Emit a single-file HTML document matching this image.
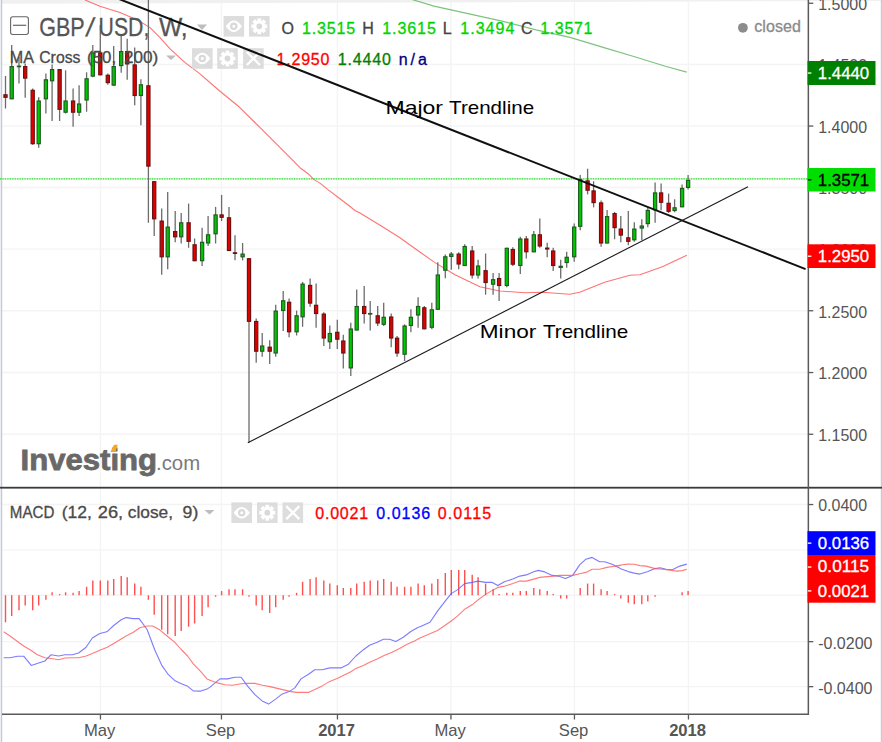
<!DOCTYPE html>
<html><head><meta charset="utf-8"><title>GBP/USD Weekly Chart</title>
<style>
html,body{margin:0;padding:0;background:#fff;}
body{width:882px;height:742px;overflow:hidden;position:relative;font-family:"Liberation Sans",sans-serif;}
svg{position:absolute;left:0;top:0;display:block}
text{font-family:"Liberation Sans",sans-serif;}
.ax{font-size:16.6px;fill:#555;}
.hd{font-size:16px;fill:#4a4a4a;}
.lbl{font-size:19px;fill:#000;}
</style></head><body>
<svg width="882" height="742" viewBox="0 0 882 742">
<rect x="0" y="0" width="882" height="742" fill="#fff"/>
<line x1="100.4" y1="0" x2="100.4" y2="714" stroke="#f4f4f4" stroke-width="1.4"/>
<line x1="221.4" y1="0" x2="221.4" y2="714" stroke="#f4f4f4" stroke-width="1.4"/>
<line x1="337.4" y1="0" x2="337.4" y2="714" stroke="#f4f4f4" stroke-width="1.4"/>
<line x1="450.9" y1="0" x2="450.9" y2="714" stroke="#f4f4f4" stroke-width="1.4"/>
<line x1="574.4" y1="0" x2="574.4" y2="714" stroke="#f4f4f4" stroke-width="1.4"/>
<line x1="688.4" y1="0" x2="688.4" y2="714" stroke="#f4f4f4" stroke-width="1.4"/>
<line x1="2" y1="64.5" x2="808.3" y2="64.5" stroke="#f4f4f4" stroke-width="1.4"/>
<line x1="2" y1="126" x2="808.3" y2="126" stroke="#f4f4f4" stroke-width="1.4"/>
<line x1="2" y1="187.5" x2="808.3" y2="187.5" stroke="#f4f4f4" stroke-width="1.4"/>
<line x1="2" y1="249.1" x2="808.3" y2="249.1" stroke="#f4f4f4" stroke-width="1.4"/>
<line x1="2" y1="310.7" x2="808.3" y2="310.7" stroke="#f4f4f4" stroke-width="1.4"/>
<line x1="2" y1="372.5" x2="808.3" y2="372.5" stroke="#f4f4f4" stroke-width="1.4"/>
<line x1="2" y1="434.2" x2="808.3" y2="434.2" stroke="#f4f4f4" stroke-width="1.4"/>
<line x1="2" y1="504.5" x2="808.3" y2="504.5" stroke="#f4f4f4" stroke-width="1.4"/>
<line x1="2" y1="549.9" x2="808.3" y2="549.9" stroke="#f4f4f4" stroke-width="1.4"/>
<line x1="2" y1="595.3" x2="808.3" y2="595.3" stroke="#f4f4f4" stroke-width="1.4"/>
<line x1="2" y1="641.6" x2="808.3" y2="641.6" stroke="#f4f4f4" stroke-width="1.4"/>
<line x1="2" y1="686.6" x2="808.3" y2="686.6" stroke="#f4f4f4" stroke-width="1.4"/>
<path d="M0 0 L882 0 L882 1 L0 3.7 Z" fill="#f0f0f0"/>
<rect x="0" y="0" width="1" height="742" fill="#eceef5"/>
<line x1="1.6" y1="0" x2="1.6" y2="742" stroke="#c6c9d3" stroke-width="1.2"/>
<line x1="881.4" y1="0" x2="881.4" y2="742" stroke="#cacad2" stroke-width="1.2"/>
<polyline points="85.0,0.0 100.0,6.2 119.9,12.5 137.4,20.0 149.8,27.4 159.8,37.4 169.8,48.6 184.8,62.4 199.7,73.6 219.7,91.0 239.6,107.3 259.6,127.2 279.6,147.2 300.0,167.7 308.1,173.7 313.7,179.4 320.2,183.4 328.3,189.9 338.0,197.2 348.5,205.3 355.0,210.5 360.0,213.0 379.7,225.0 399.6,237.5 417.0,250.0 434.6,262.4 455.0,274.7 479.9,286.7 499.8,291.0 524.8,292.7 542.2,292.2 569.7,294.2 579.7,292.2 604.6,282.2 629.9,275.2 639.9,274.7 662.4,266.7 686.8,255.2" fill="none" stroke="#ff5a5a" stroke-width="1.1" stroke-opacity="0.85" stroke-linejoin="round"/>
<polyline points="411.0,-1.0 413.6,0.0 434.0,6.1 468.0,13.6 502.0,21.1 536.0,29.9 570.0,37.4 604.0,47.6 638.0,57.8 665.3,66.3 686.7,72.1" fill="none" stroke="#3fa53f" stroke-width="1.1" stroke-opacity="0.68" stroke-linejoin="round"/>
<line x1="0" y1="178.8" x2="808.3" y2="178.8" stroke="#2fdc2f" stroke-width="1.3" stroke-opacity="0.3"/>
<line x1="0" y1="178.8" x2="808.3" y2="178.8" stroke="#2fdc2f" stroke-width="1.3" stroke-dasharray="1.2,1.25"/>
<line x1="5.5" y1="76" x2="5.5" y2="108.5" stroke="#6c6c6c" stroke-width="1.3"/>
<line x1="11.7" y1="44.9" x2="11.7" y2="99.3" stroke="#6c6c6c" stroke-width="1.3"/>
<line x1="19.0" y1="56.9" x2="19.0" y2="83.6" stroke="#6c6c6c" stroke-width="1.3"/>
<line x1="25.2" y1="63.6" x2="25.2" y2="97.8" stroke="#6c6c6c" stroke-width="1.3"/>
<line x1="32.7" y1="88.6" x2="32.7" y2="144.7" stroke="#6c6c6c" stroke-width="1.3"/>
<line x1="38.7" y1="97.3" x2="38.7" y2="147.7" stroke="#6c6c6c" stroke-width="1.3"/>
<line x1="45.9" y1="73.6" x2="45.9" y2="113.5" stroke="#6c6c6c" stroke-width="1.3"/>
<line x1="52.1" y1="64.4" x2="52.1" y2="121" stroke="#6c6c6c" stroke-width="1.3"/>
<line x1="59.6" y1="69.1" x2="59.6" y2="121" stroke="#6c6c6c" stroke-width="1.3"/>
<line x1="65.6" y1="70.3" x2="65.6" y2="113.5" stroke="#6c6c6c" stroke-width="1.3"/>
<line x1="73.1" y1="88.6" x2="73.1" y2="126.7" stroke="#6c6c6c" stroke-width="1.3"/>
<line x1="79.1" y1="85.3" x2="79.1" y2="116" stroke="#6c6c6c" stroke-width="1.3"/>
<line x1="86.6" y1="72.3" x2="86.6" y2="111.7" stroke="#6c6c6c" stroke-width="1.3"/>
<line x1="92.8" y1="44.9" x2="92.8" y2="77.3" stroke="#6c6c6c" stroke-width="1.3"/>
<line x1="100.3" y1="24.9" x2="100.3" y2="75.3" stroke="#6c6c6c" stroke-width="1.3"/>
<line x1="107.8" y1="73.6" x2="107.8" y2="84.8" stroke="#6c6c6c" stroke-width="1.3"/>
<line x1="113.7" y1="46.1" x2="113.7" y2="86.1" stroke="#6c6c6c" stroke-width="1.3"/>
<line x1="121.2" y1="34.9" x2="121.2" y2="72.8" stroke="#6c6c6c" stroke-width="1.3"/>
<line x1="127.2" y1="38.7" x2="127.2" y2="79.8" stroke="#6c6c6c" stroke-width="1.3"/>
<line x1="134.7" y1="47.4" x2="134.7" y2="105.3" stroke="#6c6c6c" stroke-width="1.3"/>
<line x1="140.9" y1="79.3" x2="140.9" y2="125.2" stroke="#6c6c6c" stroke-width="1.3"/>
<line x1="148.4" y1="0" x2="148.4" y2="222.8" stroke="#6c6c6c" stroke-width="1.3"/>
<line x1="154.2" y1="181.2" x2="154.2" y2="236" stroke="#6c6c6c" stroke-width="1.3"/>
<line x1="161.7" y1="208.6" x2="161.7" y2="274.7" stroke="#6c6c6c" stroke-width="1.3"/>
<line x1="167.7" y1="191.9" x2="167.7" y2="269.2" stroke="#6c6c6c" stroke-width="1.3"/>
<line x1="175.2" y1="211.1" x2="175.2" y2="242.3" stroke="#6c6c6c" stroke-width="1.3"/>
<line x1="181.2" y1="212.9" x2="181.2" y2="243.5" stroke="#6c6c6c" stroke-width="1.3"/>
<line x1="188.6" y1="203.6" x2="188.6" y2="247.8" stroke="#6c6c6c" stroke-width="1.3"/>
<line x1="194.6" y1="238.5" x2="194.6" y2="261.2" stroke="#6c6c6c" stroke-width="1.3"/>
<line x1="202.1" y1="227.8" x2="202.1" y2="266" stroke="#6c6c6c" stroke-width="1.3"/>
<line x1="208.1" y1="216.1" x2="208.1" y2="246" stroke="#6c6c6c" stroke-width="1.3"/>
<line x1="215.6" y1="206.9" x2="215.6" y2="243.5" stroke="#6c6c6c" stroke-width="1.3"/>
<line x1="221.6" y1="194.9" x2="221.6" y2="221.1" stroke="#6c6c6c" stroke-width="1.3"/>
<line x1="229.0" y1="206.9" x2="229.0" y2="251" stroke="#6c6c6c" stroke-width="1.3"/>
<line x1="235.0" y1="235.3" x2="235.0" y2="260.3" stroke="#6c6c6c" stroke-width="1.3"/>
<line x1="242.6" y1="243" x2="242.6" y2="260.4" stroke="#6c6c6c" stroke-width="1.3"/>
<line x1="249.0" y1="258.2" x2="249.0" y2="442.6" stroke="#6c6c6c" stroke-width="1.3"/>
<line x1="256.2" y1="318.5" x2="256.2" y2="362.7" stroke="#6c6c6c" stroke-width="1.3"/>
<line x1="262.2" y1="333" x2="262.2" y2="356.7" stroke="#6c6c6c" stroke-width="1.3"/>
<line x1="269.7" y1="340.2" x2="269.7" y2="364" stroke="#6c6c6c" stroke-width="1.3"/>
<line x1="275.7" y1="304.8" x2="275.7" y2="356.7" stroke="#6c6c6c" stroke-width="1.3"/>
<line x1="283.2" y1="291" x2="283.2" y2="331" stroke="#6c6c6c" stroke-width="1.3"/>
<line x1="289.1" y1="298.6" x2="289.1" y2="337.2" stroke="#6c6c6c" stroke-width="1.3"/>
<line x1="296.6" y1="310.6" x2="296.6" y2="335.5" stroke="#6c6c6c" stroke-width="1.3"/>
<line x1="302.6" y1="281.9" x2="302.6" y2="326.8" stroke="#6c6c6c" stroke-width="1.3"/>
<line x1="310.1" y1="278.6" x2="310.1" y2="306.8" stroke="#6c6c6c" stroke-width="1.3"/>
<line x1="316.1" y1="283.6" x2="316.1" y2="327.8" stroke="#6c6c6c" stroke-width="1.3"/>
<line x1="323.8" y1="312.3" x2="323.8" y2="346" stroke="#6c6c6c" stroke-width="1.3"/>
<line x1="329.8" y1="325.5" x2="329.8" y2="349" stroke="#6c6c6c" stroke-width="1.3"/>
<line x1="337.3" y1="319.8" x2="337.3" y2="349" stroke="#6c6c6c" stroke-width="1.3"/>
<line x1="343.3" y1="334.8" x2="343.3" y2="368.4" stroke="#6c6c6c" stroke-width="1.3"/>
<line x1="350.8" y1="322.8" x2="350.8" y2="376" stroke="#6c6c6c" stroke-width="1.3"/>
<line x1="356.7" y1="289.4" x2="356.7" y2="330.5" stroke="#6c6c6c" stroke-width="1.3"/>
<line x1="364.2" y1="286" x2="364.2" y2="323.5" stroke="#6c6c6c" stroke-width="1.3"/>
<line x1="370.2" y1="301" x2="370.2" y2="330.5" stroke="#6c6c6c" stroke-width="1.3"/>
<line x1="377.7" y1="306" x2="377.7" y2="326" stroke="#6c6c6c" stroke-width="1.3"/>
<line x1="383.7" y1="302.8" x2="383.7" y2="326" stroke="#6c6c6c" stroke-width="1.3"/>
<line x1="391.2" y1="313.5" x2="391.2" y2="347.2" stroke="#6c6c6c" stroke-width="1.3"/>
<line x1="397.1" y1="336" x2="397.1" y2="356.7" stroke="#6c6c6c" stroke-width="1.3"/>
<line x1="404.6" y1="324.3" x2="404.6" y2="361" stroke="#6c6c6c" stroke-width="1.3"/>
<line x1="410.9" y1="309.3" x2="410.9" y2="332.3" stroke="#6c6c6c" stroke-width="1.3"/>
<line x1="418.1" y1="297.3" x2="418.1" y2="327.8" stroke="#6c6c6c" stroke-width="1.3"/>
<line x1="424.3" y1="306" x2="424.3" y2="329.3" stroke="#6c6c6c" stroke-width="1.3"/>
<line x1="431.8" y1="302.8" x2="431.8" y2="329.3" stroke="#6c6c6c" stroke-width="1.3"/>
<line x1="437.8" y1="262.3" x2="437.8" y2="309.8" stroke="#6c6c6c" stroke-width="1.3"/>
<line x1="445.3" y1="254.6" x2="445.3" y2="278.2" stroke="#6c6c6c" stroke-width="1.3"/>
<line x1="451.3" y1="251.9" x2="451.3" y2="269.8" stroke="#6c6c6c" stroke-width="1.3"/>
<line x1="458.7" y1="252.3" x2="458.7" y2="269.3" stroke="#6c6c6c" stroke-width="1.3"/>
<line x1="464.7" y1="244.3" x2="464.7" y2="266" stroke="#6c6c6c" stroke-width="1.3"/>
<line x1="472.2" y1="246" x2="472.2" y2="278.5" stroke="#6c6c6c" stroke-width="1.3"/>
<line x1="478.1" y1="259.8" x2="478.1" y2="278.5" stroke="#6c6c6c" stroke-width="1.3"/>
<line x1="485.6" y1="253.5" x2="485.6" y2="294.7" stroke="#6c6c6c" stroke-width="1.3"/>
<line x1="493.1" y1="273" x2="493.1" y2="294.7" stroke="#6c6c6c" stroke-width="1.3"/>
<line x1="499.1" y1="273" x2="499.1" y2="301" stroke="#6c6c6c" stroke-width="1.3"/>
<line x1="506.8" y1="247.8" x2="506.8" y2="287.2" stroke="#6c6c6c" stroke-width="1.3"/>
<line x1="512.8" y1="247.3" x2="512.8" y2="266" stroke="#6c6c6c" stroke-width="1.3"/>
<line x1="520.3" y1="236.8" x2="520.3" y2="274" stroke="#6c6c6c" stroke-width="1.3"/>
<line x1="526.3" y1="236" x2="526.3" y2="258.5" stroke="#6c6c6c" stroke-width="1.3"/>
<line x1="533.8" y1="231" x2="533.8" y2="252.3" stroke="#6c6c6c" stroke-width="1.3"/>
<line x1="539.8" y1="218.6" x2="539.8" y2="247.8" stroke="#6c6c6c" stroke-width="1.3"/>
<line x1="547.2" y1="242.8" x2="547.2" y2="257.3" stroke="#6c6c6c" stroke-width="1.3"/>
<line x1="553.2" y1="247.8" x2="553.2" y2="271" stroke="#6c6c6c" stroke-width="1.3"/>
<line x1="560.7" y1="259.8" x2="560.7" y2="278.5" stroke="#6c6c6c" stroke-width="1.3"/>
<line x1="566.7" y1="251.8" x2="566.7" y2="267.7" stroke="#6c6c6c" stroke-width="1.3"/>
<line x1="574.2" y1="223.6" x2="574.2" y2="261.8" stroke="#6c6c6c" stroke-width="1.3"/>
<line x1="580.2" y1="175" x2="580.2" y2="230.3" stroke="#6c6c6c" stroke-width="1.3"/>
<line x1="587.6" y1="168.7" x2="587.6" y2="194.4" stroke="#6c6c6c" stroke-width="1.3"/>
<line x1="593.6" y1="181.2" x2="593.6" y2="207.4" stroke="#6c6c6c" stroke-width="1.3"/>
<line x1="601.1" y1="200.6" x2="601.1" y2="246.8" stroke="#6c6c6c" stroke-width="1.3"/>
<line x1="607.1" y1="209.9" x2="607.1" y2="243.5" stroke="#6c6c6c" stroke-width="1.3"/>
<line x1="614.6" y1="211.9" x2="614.6" y2="239.3" stroke="#6c6c6c" stroke-width="1.3"/>
<line x1="620.8" y1="216.1" x2="620.8" y2="242.3" stroke="#6c6c6c" stroke-width="1.3"/>
<line x1="628.3" y1="211.1" x2="628.3" y2="245.3" stroke="#6c6c6c" stroke-width="1.3"/>
<line x1="634.3" y1="222.3" x2="634.3" y2="241.8" stroke="#6c6c6c" stroke-width="1.3"/>
<line x1="641.8" y1="219.3" x2="641.8" y2="240.3" stroke="#6c6c6c" stroke-width="1.3"/>
<line x1="647.8" y1="207.4" x2="647.8" y2="227.3" stroke="#6c6c6c" stroke-width="1.3"/>
<line x1="655.1" y1="182.4" x2="655.1" y2="222.8" stroke="#6c6c6c" stroke-width="1.3"/>
<line x1="661.1" y1="183.6" x2="661.1" y2="210.3" stroke="#6c6c6c" stroke-width="1.3"/>
<line x1="668.6" y1="193.6" x2="668.6" y2="213" stroke="#6c6c6c" stroke-width="1.3"/>
<line x1="674.6" y1="199.3" x2="674.6" y2="212.3" stroke="#6c6c6c" stroke-width="1.3"/>
<line x1="682.1" y1="184.4" x2="682.1" y2="207.3" stroke="#6c6c6c" stroke-width="1.3"/>
<line x1="688.1" y1="174.9" x2="688.1" y2="189.4" stroke="#6c6c6c" stroke-width="1.3"/>
<rect x="3.9" y="94.8" width="3.2" height="2.5" fill="#e00000" stroke="#6a1010" stroke-width="1.15"/>
<rect x="10.1" y="66.6" width="3.2" height="32.2" fill="#00c800" stroke="#1f5a1f" stroke-width="1.15"/>
<rect x="17.4" y="66.1" width="3.2" height="0.6" fill="#00c800" stroke="#1f5a1f" stroke-width="1.15"/>
<rect x="23.6" y="66.6" width="3.2" height="11.5" fill="#e00000" stroke="#6a1010" stroke-width="1.15"/>
<rect x="31.1" y="90.3" width="3.2" height="53.4" fill="#e00000" stroke="#6a1010" stroke-width="1.15"/>
<rect x="37.1" y="101.0" width="3.2" height="42.7" fill="#00c800" stroke="#1f5a1f" stroke-width="1.15"/>
<rect x="44.3" y="79.8" width="3.2" height="19.0" fill="#00c800" stroke="#1f5a1f" stroke-width="1.15"/>
<rect x="50.5" y="69.6" width="3.2" height="11.2" fill="#00c800" stroke="#1f5a1f" stroke-width="1.15"/>
<rect x="58.0" y="69.6" width="3.2" height="39.7" fill="#e00000" stroke="#6a1010" stroke-width="1.15"/>
<rect x="64.0" y="101.0" width="3.2" height="11.2" fill="#00c800" stroke="#1f5a1f" stroke-width="1.15"/>
<rect x="71.5" y="101.0" width="3.2" height="11.2" fill="#e00000" stroke="#6a1010" stroke-width="1.15"/>
<rect x="77.5" y="104.0" width="3.2" height="8.2" fill="#00c800" stroke="#1f5a1f" stroke-width="1.15"/>
<rect x="85.0" y="78.8" width="3.2" height="21.2" fill="#00c800" stroke="#1f5a1f" stroke-width="1.15"/>
<rect x="91.2" y="52.9" width="3.2" height="23.2" fill="#00c800" stroke="#1f5a1f" stroke-width="1.15"/>
<rect x="98.7" y="52.9" width="3.2" height="21.9" fill="#e00000" stroke="#6a1010" stroke-width="1.15"/>
<rect x="106.2" y="75.3" width="3.2" height="7.3" fill="#e00000" stroke="#6a1010" stroke-width="1.15"/>
<rect x="112.1" y="66.6" width="3.2" height="18.5" fill="#00c800" stroke="#1f5a1f" stroke-width="1.15"/>
<rect x="119.6" y="51.6" width="3.2" height="14.0" fill="#00c800" stroke="#1f5a1f" stroke-width="1.15"/>
<rect x="125.6" y="51.6" width="3.2" height="12.3" fill="#e00000" stroke="#6a1010" stroke-width="1.15"/>
<rect x="133.1" y="64.9" width="3.2" height="30.6" fill="#e00000" stroke="#6a1010" stroke-width="1.15"/>
<rect x="139.3" y="84.8" width="3.2" height="10.7" fill="#00c800" stroke="#1f5a1f" stroke-width="1.15"/>
<rect x="146.8" y="85.8" width="3.2" height="80.3" fill="#e00000" stroke="#6a1010" stroke-width="1.15"/>
<rect x="152.6" y="181.7" width="3.2" height="37.1" fill="#e00000" stroke="#6a1010" stroke-width="1.15"/>
<rect x="160.1" y="221.1" width="3.2" height="35.7" fill="#e00000" stroke="#6a1010" stroke-width="1.15"/>
<rect x="166.1" y="227.1" width="3.2" height="29.7" fill="#00c800" stroke="#1f5a1f" stroke-width="1.15"/>
<rect x="173.6" y="231.6" width="3.2" height="5.2" fill="#e00000" stroke="#6a1010" stroke-width="1.15"/>
<rect x="179.6" y="222.8" width="3.2" height="14.0" fill="#00c800" stroke="#1f5a1f" stroke-width="1.15"/>
<rect x="187.0" y="222.8" width="3.2" height="18.5" fill="#e00000" stroke="#6a1010" stroke-width="1.15"/>
<rect x="193.0" y="244.8" width="3.2" height="15.9" fill="#e00000" stroke="#6a1010" stroke-width="1.15"/>
<rect x="200.5" y="242.3" width="3.2" height="18.4" fill="#00c800" stroke="#1f5a1f" stroke-width="1.15"/>
<rect x="206.5" y="234.8" width="3.2" height="8.2" fill="#00c800" stroke="#1f5a1f" stroke-width="1.15"/>
<rect x="214.0" y="214.9" width="3.2" height="18.9" fill="#00c800" stroke="#1f5a1f" stroke-width="1.15"/>
<rect x="220.0" y="214.9" width="3.2" height="2.4" fill="#e00000" stroke="#6a1010" stroke-width="1.15"/>
<rect x="227.4" y="217.8" width="3.2" height="32.7" fill="#e00000" stroke="#6a1010" stroke-width="1.15"/>
<rect x="233.4" y="252.8" width="3.2" height="0.6" fill="#e00000" stroke="#6a1010" stroke-width="1.15"/>
<rect x="241.0" y="254.1" width="3.2" height="2.7" fill="#00c800" stroke="#1f5a1f" stroke-width="1.15"/>
<rect x="247.4" y="258.7" width="3.2" height="62.6" fill="#e00000" stroke="#6a1010" stroke-width="1.15"/>
<rect x="254.6" y="321.5" width="3.2" height="29.7" fill="#e00000" stroke="#6a1010" stroke-width="1.15"/>
<rect x="260.6" y="346.0" width="3.2" height="5.2" fill="#00c800" stroke="#1f5a1f" stroke-width="1.15"/>
<rect x="268.1" y="347.2" width="3.2" height="4.0" fill="#e00000" stroke="#6a1010" stroke-width="1.15"/>
<rect x="274.1" y="311.1" width="3.2" height="41.9" fill="#00c800" stroke="#1f5a1f" stroke-width="1.15"/>
<rect x="281.6" y="300.8" width="3.2" height="9.7" fill="#00c800" stroke="#1f5a1f" stroke-width="1.15"/>
<rect x="287.5" y="302.3" width="3.2" height="29.5" fill="#e00000" stroke="#6a1010" stroke-width="1.15"/>
<rect x="295.0" y="315.8" width="3.2" height="16.0" fill="#00c800" stroke="#1f5a1f" stroke-width="1.15"/>
<rect x="301.0" y="284.1" width="3.2" height="32.7" fill="#00c800" stroke="#1f5a1f" stroke-width="1.15"/>
<rect x="308.5" y="285.4" width="3.2" height="17.7" fill="#e00000" stroke="#6a1010" stroke-width="1.15"/>
<rect x="314.5" y="305.3" width="3.2" height="8.2" fill="#e00000" stroke="#6a1010" stroke-width="1.15"/>
<rect x="322.2" y="314.1" width="3.2" height="23.9" fill="#e00000" stroke="#6a1010" stroke-width="1.15"/>
<rect x="328.2" y="333.5" width="3.2" height="8.2" fill="#00c800" stroke="#1f5a1f" stroke-width="1.15"/>
<rect x="335.7" y="332.3" width="3.2" height="6.9" fill="#e00000" stroke="#6a1010" stroke-width="1.15"/>
<rect x="341.7" y="341.0" width="3.2" height="12.0" fill="#e00000" stroke="#6a1010" stroke-width="1.15"/>
<rect x="349.2" y="329.0" width="3.2" height="38.9" fill="#00c800" stroke="#1f5a1f" stroke-width="1.15"/>
<rect x="355.1" y="306.5" width="3.2" height="23.5" fill="#00c800" stroke="#1f5a1f" stroke-width="1.15"/>
<rect x="362.6" y="306.5" width="3.2" height="7.0" fill="#e00000" stroke="#6a1010" stroke-width="1.15"/>
<rect x="368.6" y="313.5" width="3.2" height="0.6" fill="#00c800" stroke="#1f5a1f" stroke-width="1.15"/>
<rect x="376.1" y="315.8" width="3.2" height="7.2" fill="#e00000" stroke="#6a1010" stroke-width="1.15"/>
<rect x="382.1" y="317.3" width="3.2" height="7.0" fill="#00c800" stroke="#1f5a1f" stroke-width="1.15"/>
<rect x="389.6" y="317.0" width="3.2" height="21.0" fill="#e00000" stroke="#6a1010" stroke-width="1.15"/>
<rect x="395.5" y="338.2" width="3.2" height="14.8" fill="#e00000" stroke="#6a1010" stroke-width="1.15"/>
<rect x="403.0" y="326.0" width="3.2" height="28.2" fill="#00c800" stroke="#1f5a1f" stroke-width="1.15"/>
<rect x="409.3" y="317.3" width="3.2" height="8.2" fill="#00c800" stroke="#1f5a1f" stroke-width="1.15"/>
<rect x="416.5" y="306.5" width="3.2" height="8.5" fill="#00c800" stroke="#1f5a1f" stroke-width="1.15"/>
<rect x="422.7" y="307.8" width="3.2" height="21.0" fill="#e00000" stroke="#6a1010" stroke-width="1.15"/>
<rect x="430.2" y="309.8" width="3.2" height="17.5" fill="#00c800" stroke="#1f5a1f" stroke-width="1.15"/>
<rect x="436.2" y="275.0" width="3.2" height="34.3" fill="#00c800" stroke="#1f5a1f" stroke-width="1.15"/>
<rect x="443.7" y="256.8" width="3.2" height="13.4" fill="#00c800" stroke="#1f5a1f" stroke-width="1.15"/>
<rect x="449.7" y="254.1" width="3.2" height="2.3" fill="#00c800" stroke="#1f5a1f" stroke-width="1.15"/>
<rect x="457.1" y="254.1" width="3.2" height="9.9" fill="#e00000" stroke="#6a1010" stroke-width="1.15"/>
<rect x="463.1" y="246.5" width="3.2" height="19.0" fill="#00c800" stroke="#1f5a1f" stroke-width="1.15"/>
<rect x="470.6" y="251.0" width="3.2" height="24.0" fill="#e00000" stroke="#6a1010" stroke-width="1.15"/>
<rect x="476.5" y="266.0" width="3.2" height="9.0" fill="#00c800" stroke="#1f5a1f" stroke-width="1.15"/>
<rect x="484.0" y="270.7" width="3.2" height="11.8" fill="#e00000" stroke="#6a1010" stroke-width="1.15"/>
<rect x="491.5" y="279.7" width="3.2" height="4.5" fill="#00c800" stroke="#1f5a1f" stroke-width="1.15"/>
<rect x="497.5" y="278.5" width="3.2" height="7.0" fill="#e00000" stroke="#6a1010" stroke-width="1.15"/>
<rect x="505.2" y="248.3" width="3.2" height="37.2" fill="#00c800" stroke="#1f5a1f" stroke-width="1.15"/>
<rect x="511.2" y="249.5" width="3.2" height="14.7" fill="#e00000" stroke="#6a1010" stroke-width="1.15"/>
<rect x="518.7" y="239.0" width="3.2" height="26.5" fill="#00c800" stroke="#1f5a1f" stroke-width="1.15"/>
<rect x="524.7" y="239.0" width="3.2" height="12.8" fill="#e00000" stroke="#6a1010" stroke-width="1.15"/>
<rect x="532.2" y="234.8" width="3.2" height="17.0" fill="#00c800" stroke="#1f5a1f" stroke-width="1.15"/>
<rect x="538.2" y="234.8" width="3.2" height="11.2" fill="#e00000" stroke="#6a1010" stroke-width="1.15"/>
<rect x="545.6" y="248.1" width="3.2" height="0.9" fill="#e00000" stroke="#6a1010" stroke-width="1.15"/>
<rect x="551.6" y="251.0" width="3.2" height="14.5" fill="#e00000" stroke="#6a1010" stroke-width="1.15"/>
<rect x="559.1" y="266.3" width="3.2" height="1.1" fill="#00c800" stroke="#1f5a1f" stroke-width="1.15"/>
<rect x="565.1" y="257.3" width="3.2" height="5.2" fill="#00c800" stroke="#1f5a1f" stroke-width="1.15"/>
<rect x="572.6" y="227.1" width="3.2" height="29.7" fill="#00c800" stroke="#1f5a1f" stroke-width="1.15"/>
<rect x="578.6" y="179.7" width="3.2" height="46.6" fill="#00c800" stroke="#1f5a1f" stroke-width="1.15"/>
<rect x="586.0" y="180.9" width="3.2" height="9.3" fill="#e00000" stroke="#6a1010" stroke-width="1.15"/>
<rect x="592.0" y="190.9" width="3.2" height="11.7" fill="#e00000" stroke="#6a1010" stroke-width="1.15"/>
<rect x="599.5" y="202.9" width="3.2" height="40.1" fill="#e00000" stroke="#6a1010" stroke-width="1.15"/>
<rect x="605.5" y="216.6" width="3.2" height="26.4" fill="#00c800" stroke="#1f5a1f" stroke-width="1.15"/>
<rect x="613.0" y="213.6" width="3.2" height="14.0" fill="#e00000" stroke="#6a1010" stroke-width="1.15"/>
<rect x="619.2" y="229.1" width="3.2" height="6.0" fill="#e00000" stroke="#6a1010" stroke-width="1.15"/>
<rect x="626.7" y="237.8" width="3.2" height="3.5" fill="#e00000" stroke="#6a1010" stroke-width="1.15"/>
<rect x="632.7" y="229.1" width="3.2" height="10.7" fill="#00c800" stroke="#1f5a1f" stroke-width="1.15"/>
<rect x="640.2" y="226.0" width="3.2" height="2.1" fill="#00c800" stroke="#1f5a1f" stroke-width="1.15"/>
<rect x="646.2" y="210.4" width="3.2" height="13.2" fill="#00c800" stroke="#1f5a1f" stroke-width="1.15"/>
<rect x="653.5" y="192.9" width="3.2" height="16.9" fill="#00c800" stroke="#1f5a1f" stroke-width="1.15"/>
<rect x="659.5" y="192.9" width="3.2" height="9.4" fill="#e00000" stroke="#6a1010" stroke-width="1.15"/>
<rect x="667.0" y="203.3" width="3.2" height="8.0" fill="#e00000" stroke="#6a1010" stroke-width="1.15"/>
<rect x="673.0" y="207.8" width="3.2" height="2.7" fill="#00c800" stroke="#1f5a1f" stroke-width="1.15"/>
<rect x="680.5" y="188.4" width="3.2" height="18.4" fill="#00c800" stroke="#1f5a1f" stroke-width="1.15"/>
<rect x="686.5" y="180.4" width="3.2" height="7.0" fill="#00c800" stroke="#1f5a1f" stroke-width="1.15"/>
<line x1="5.5" y1="595.3" x2="5.5" y2="622.3" stroke="#ff5050" stroke-width="1.4"/>
<line x1="11.7" y1="595.3" x2="11.7" y2="616.0" stroke="#ff5050" stroke-width="1.4"/>
<line x1="19.0" y1="595.3" x2="19.0" y2="610.3" stroke="#ff5050" stroke-width="1.4"/>
<line x1="25.2" y1="595.3" x2="25.2" y2="605.5" stroke="#ff5050" stroke-width="1.4"/>
<line x1="32.7" y1="595.3" x2="32.7" y2="610.3" stroke="#ff5050" stroke-width="1.4"/>
<line x1="38.7" y1="595.3" x2="38.7" y2="605.5" stroke="#ff5050" stroke-width="1.4"/>
<line x1="45.9" y1="595.3" x2="45.9" y2="599.8" stroke="#ff5050" stroke-width="1.4"/>
<line x1="52.1" y1="592.3" x2="52.1" y2="595.3" stroke="#ff5050" stroke-width="1.4"/>
<line x1="59.6" y1="594.1" x2="59.6" y2="595.3" stroke="#ff5050" stroke-width="1.4"/>
<line x1="65.6" y1="592.3" x2="65.6" y2="595.3" stroke="#ff5050" stroke-width="1.4"/>
<line x1="73.1" y1="592.8" x2="73.1" y2="595.3" stroke="#ff5050" stroke-width="1.4"/>
<line x1="79.1" y1="591.1" x2="79.1" y2="595.3" stroke="#ff5050" stroke-width="1.4"/>
<line x1="86.6" y1="586.8" x2="86.6" y2="595.3" stroke="#ff5050" stroke-width="1.4"/>
<line x1="92.8" y1="580.6" x2="92.8" y2="595.3" stroke="#ff5050" stroke-width="1.4"/>
<line x1="100.3" y1="580.6" x2="100.3" y2="595.3" stroke="#ff5050" stroke-width="1.4"/>
<line x1="107.8" y1="580.6" x2="107.8" y2="595.3" stroke="#ff5050" stroke-width="1.4"/>
<line x1="113.7" y1="579.1" x2="113.7" y2="595.3" stroke="#ff5050" stroke-width="1.4"/>
<line x1="121.2" y1="576.1" x2="121.2" y2="595.3" stroke="#ff5050" stroke-width="1.4"/>
<line x1="127.2" y1="577.3" x2="127.2" y2="595.3" stroke="#ff5050" stroke-width="1.4"/>
<line x1="134.7" y1="583.6" x2="134.7" y2="595.3" stroke="#ff5050" stroke-width="1.4"/>
<line x1="140.9" y1="586.8" x2="140.9" y2="595.3" stroke="#ff5050" stroke-width="1.4"/>
<line x1="148.4" y1="595.3" x2="148.4" y2="599.8" stroke="#ff5050" stroke-width="1.4"/>
<line x1="154.2" y1="595.3" x2="154.2" y2="614.8" stroke="#ff5050" stroke-width="1.4"/>
<line x1="161.7" y1="595.3" x2="161.7" y2="629.7" stroke="#ff5050" stroke-width="1.4"/>
<line x1="167.7" y1="595.3" x2="167.7" y2="634.2" stroke="#ff5050" stroke-width="1.4"/>
<line x1="175.2" y1="595.3" x2="175.2" y2="636.0" stroke="#ff5050" stroke-width="1.4"/>
<line x1="181.2" y1="595.3" x2="181.2" y2="631.0" stroke="#ff5050" stroke-width="1.4"/>
<line x1="188.6" y1="595.3" x2="188.6" y2="626.7" stroke="#ff5050" stroke-width="1.4"/>
<line x1="194.6" y1="595.3" x2="194.6" y2="623.5" stroke="#ff5050" stroke-width="1.4"/>
<line x1="202.1" y1="595.3" x2="202.1" y2="616.0" stroke="#ff5050" stroke-width="1.4"/>
<line x1="208.1" y1="595.3" x2="208.1" y2="607.3" stroke="#ff5050" stroke-width="1.4"/>
<line x1="215.6" y1="595.3" x2="215.6" y2="596.8" stroke="#ff5050" stroke-width="1.4"/>
<line x1="221.6" y1="591.1" x2="221.6" y2="595.3" stroke="#ff5050" stroke-width="1.4"/>
<line x1="229.0" y1="589.3" x2="229.0" y2="595.3" stroke="#ff5050" stroke-width="1.4"/>
<line x1="235.0" y1="589.3" x2="235.0" y2="595.3" stroke="#ff5050" stroke-width="1.4"/>
<line x1="242.6" y1="589.3" x2="242.6" y2="595.3" stroke="#ff5050" stroke-width="1.4"/>
<line x1="249.0" y1="595.3" x2="249.0" y2="596.8" stroke="#ff5050" stroke-width="1.4"/>
<line x1="256.2" y1="595.3" x2="256.2" y2="605.5" stroke="#ff5050" stroke-width="1.4"/>
<line x1="262.2" y1="595.3" x2="262.2" y2="610.3" stroke="#ff5050" stroke-width="1.4"/>
<line x1="269.7" y1="595.3" x2="269.7" y2="613.0" stroke="#ff5050" stroke-width="1.4"/>
<line x1="275.7" y1="595.3" x2="275.7" y2="607.3" stroke="#ff5050" stroke-width="1.4"/>
<line x1="283.2" y1="595.3" x2="283.2" y2="599.8" stroke="#ff5050" stroke-width="1.4"/>
<line x1="289.1" y1="595.3" x2="289.1" y2="596.8" stroke="#ff5050" stroke-width="1.4"/>
<line x1="296.6" y1="592.8" x2="296.6" y2="595.3" stroke="#ff5050" stroke-width="1.4"/>
<line x1="302.6" y1="581.8" x2="302.6" y2="595.3" stroke="#ff5050" stroke-width="1.4"/>
<line x1="310.1" y1="579.1" x2="310.1" y2="595.3" stroke="#ff5050" stroke-width="1.4"/>
<line x1="316.1" y1="577.3" x2="316.1" y2="595.3" stroke="#ff5050" stroke-width="1.4"/>
<line x1="323.8" y1="580.6" x2="323.8" y2="595.3" stroke="#ff5050" stroke-width="1.4"/>
<line x1="329.8" y1="583.6" x2="329.8" y2="595.3" stroke="#ff5050" stroke-width="1.4"/>
<line x1="337.3" y1="585.3" x2="337.3" y2="595.3" stroke="#ff5050" stroke-width="1.4"/>
<line x1="343.3" y1="588.1" x2="343.3" y2="595.3" stroke="#ff5050" stroke-width="1.4"/>
<line x1="350.8" y1="588.1" x2="350.8" y2="595.3" stroke="#ff5050" stroke-width="1.4"/>
<line x1="356.7" y1="583.6" x2="356.7" y2="595.3" stroke="#ff5050" stroke-width="1.4"/>
<line x1="364.2" y1="581.8" x2="364.2" y2="595.3" stroke="#ff5050" stroke-width="1.4"/>
<line x1="370.2" y1="580.6" x2="370.2" y2="595.3" stroke="#ff5050" stroke-width="1.4"/>
<line x1="377.7" y1="580.6" x2="377.7" y2="595.3" stroke="#ff5050" stroke-width="1.4"/>
<line x1="383.7" y1="579.1" x2="383.7" y2="595.3" stroke="#ff5050" stroke-width="1.4"/>
<line x1="391.2" y1="581.8" x2="391.2" y2="595.3" stroke="#ff5050" stroke-width="1.4"/>
<line x1="397.1" y1="586.8" x2="397.1" y2="595.3" stroke="#ff5050" stroke-width="1.4"/>
<line x1="404.6" y1="586.8" x2="404.6" y2="595.3" stroke="#ff5050" stroke-width="1.4"/>
<line x1="410.9" y1="586.8" x2="410.9" y2="595.3" stroke="#ff5050" stroke-width="1.4"/>
<line x1="418.1" y1="583.6" x2="418.1" y2="595.3" stroke="#ff5050" stroke-width="1.4"/>
<line x1="424.3" y1="585.3" x2="424.3" y2="595.3" stroke="#ff5050" stroke-width="1.4"/>
<line x1="431.8" y1="583.6" x2="431.8" y2="595.3" stroke="#ff5050" stroke-width="1.4"/>
<line x1="437.8" y1="579.1" x2="437.8" y2="595.3" stroke="#ff5050" stroke-width="1.4"/>
<line x1="445.3" y1="573.1" x2="445.3" y2="595.3" stroke="#ff5050" stroke-width="1.4"/>
<line x1="451.3" y1="569.9" x2="451.3" y2="595.3" stroke="#ff5050" stroke-width="1.4"/>
<line x1="458.7" y1="569.9" x2="458.7" y2="595.3" stroke="#ff5050" stroke-width="1.4"/>
<line x1="464.7" y1="569.9" x2="464.7" y2="595.3" stroke="#ff5050" stroke-width="1.4"/>
<line x1="472.2" y1="574.8" x2="472.2" y2="595.3" stroke="#ff5050" stroke-width="1.4"/>
<line x1="478.1" y1="577.3" x2="478.1" y2="595.3" stroke="#ff5050" stroke-width="1.4"/>
<line x1="485.6" y1="583.6" x2="485.6" y2="595.3" stroke="#ff5050" stroke-width="1.4"/>
<line x1="493.1" y1="589.3" x2="493.1" y2="595.3" stroke="#ff5050" stroke-width="1.4"/>
<line x1="499.1" y1="594.1" x2="499.1" y2="595.3" stroke="#ff5050" stroke-width="1.4"/>
<line x1="506.8" y1="592.8" x2="506.8" y2="595.3" stroke="#ff5050" stroke-width="1.4"/>
<line x1="512.8" y1="592.8" x2="512.8" y2="595.3" stroke="#ff5050" stroke-width="1.4"/>
<line x1="520.3" y1="591.1" x2="520.3" y2="595.3" stroke="#ff5050" stroke-width="1.4"/>
<line x1="526.3" y1="591.1" x2="526.3" y2="595.3" stroke="#ff5050" stroke-width="1.4"/>
<line x1="533.8" y1="588.1" x2="533.8" y2="595.3" stroke="#ff5050" stroke-width="1.4"/>
<line x1="539.8" y1="589.3" x2="539.8" y2="595.3" stroke="#ff5050" stroke-width="1.4"/>
<line x1="547.2" y1="591.1" x2="547.2" y2="595.3" stroke="#ff5050" stroke-width="1.4"/>
<line x1="553.2" y1="594.1" x2="553.2" y2="595.3" stroke="#ff5050" stroke-width="1.4"/>
<line x1="560.7" y1="595.3" x2="560.7" y2="598.5" stroke="#ff5050" stroke-width="1.4"/>
<line x1="566.7" y1="595.3" x2="566.7" y2="598.5" stroke="#ff5050" stroke-width="1.4"/>
<line x1="580.2" y1="588.1" x2="580.2" y2="595.3" stroke="#ff5050" stroke-width="1.4"/>
<line x1="587.6" y1="583.6" x2="587.6" y2="595.3" stroke="#ff5050" stroke-width="1.4"/>
<line x1="593.6" y1="583.6" x2="593.6" y2="595.3" stroke="#ff5050" stroke-width="1.4"/>
<line x1="601.1" y1="589.3" x2="601.1" y2="595.3" stroke="#ff5050" stroke-width="1.4"/>
<line x1="607.1" y1="591.1" x2="607.1" y2="595.3" stroke="#ff5050" stroke-width="1.4"/>
<line x1="614.6" y1="594.1" x2="614.6" y2="595.3" stroke="#ff5050" stroke-width="1.4"/>
<line x1="620.8" y1="595.3" x2="620.8" y2="598.5" stroke="#ff5050" stroke-width="1.4"/>
<line x1="628.3" y1="595.3" x2="628.3" y2="602.8" stroke="#ff5050" stroke-width="1.4"/>
<line x1="634.3" y1="595.3" x2="634.3" y2="604.3" stroke="#ff5050" stroke-width="1.4"/>
<line x1="641.8" y1="595.3" x2="641.8" y2="604.3" stroke="#ff5050" stroke-width="1.4"/>
<line x1="647.8" y1="595.3" x2="647.8" y2="601.5" stroke="#ff5050" stroke-width="1.4"/>
<line x1="655.1" y1="595.3" x2="655.1" y2="596.8" stroke="#ff5050" stroke-width="1.4"/>
<line x1="682.1" y1="592.3" x2="682.1" y2="595.3" stroke="#ff5050" stroke-width="1.4"/>
<line x1="688.1" y1="591.1" x2="688.1" y2="595.3" stroke="#ff5050" stroke-width="1.4"/>
<polyline points="3.7,657.7 10.0,657.7 17.5,656.2 23.7,656.2 31.2,665.4 38.7,663.0 44.9,661.0 51.1,654.7 58.6,656.0 64.9,654.7 72.3,654.7 78.6,653.0 86.1,647.2 92.3,638.0 99.8,633.5 106.8,631.8 113.7,625.5 121.2,619.8 126.0,617.6 133.4,618.6 139.2,618.6 147.2,629.8 154.7,649.7 162.1,665.9 168.4,674.7 174.6,680.4 180.8,683.4 187.1,685.9 193.3,690.9 200.8,691.1 207.0,689.1 210.0,687.1 220.0,678.9 227.5,678.9 234.9,677.2 241.2,677.2 247.4,685.9 254.9,694.6 262.1,700.9 268.6,704.1 275.6,699.1 282.3,693.9 289.1,691.6 294.8,687.9 301.0,678.9 308.5,674.2 314.8,669.7 322.2,669.7 329.7,667.9 341.0,667.9 348.4,664.2 355.9,656.0 363.4,649.7 369.6,645.2 377.1,642.2 383.4,639.3 389.6,639.3 395.8,641.5 403.3,637.3 410.8,631.5 418.3,627.3 420.0,626.8 430.0,622.3 437.5,611.1 445.2,601.1 451.2,593.6 457.4,589.9 464.6,583.6 472.1,582.4 478.1,581.1 485.6,582.4 492.3,582.4 497.8,585.6 504.8,581.6 512.8,579.1 519.8,576.1 526.3,574.9 533.7,571.7 538.5,570.4 544.7,571.9 552.2,575.4 558.4,576.1 565.4,578.6 572.7,575.4 579.6,564.9 585.9,559.2 592.1,557.4 599.6,561.7 604.6,561.7 612.1,564.2 619.6,567.9 620.0,568.6 628.2,571.6 634.2,573.1 639.9,574.1 647.9,571.6 655.1,568.6 659.9,567.8 666.1,569.3 672.3,569.8 679.8,566.1 686.8,564.1" fill="none" stroke="#5a5aff" stroke-width="1.1" stroke-opacity="0.8" stroke-linejoin="round"/>
<polyline points="3.7,631.8 10.0,636.0 17.5,641.5 23.7,646.0 31.2,650.5 37.4,654.7 44.9,657.7 51.1,658.5 58.6,659.7 64.9,658.0 72.3,657.7 78.6,657.7 86.1,656.0 92.3,653.5 99.8,650.2 107.3,647.2 113.7,643.5 121.2,639.0 126.0,636.0 133.4,632.3 139.7,627.8 147.2,626.0 152.7,626.0 159.6,629.8 167.1,636.0 174.6,642.2 180.8,649.0 187.6,656.0 193.3,663.9 200.8,671.7 207.0,678.9 210.0,680.2 217.5,682.9 225.0,684.7 232.4,685.2 241.2,683.7 247.4,683.4 254.9,683.4 262.4,685.2 269.9,686.6 277.3,688.4 284.8,690.1 289.8,691.4 296.1,692.4 302.3,692.4 308.5,692.4 314.8,689.6 322.2,685.9 329.7,681.4 337.2,678.4 344.7,674.7 350.9,671.7 355.9,668.4 363.4,665.4 369.6,662.2 377.1,659.0 384.6,655.2 392.1,652.2 399.6,648.5 407.1,644.2 414.5,641.0 420.0,638.0 427.5,634.8 437.5,630.5 445.2,625.3 451.2,621.0 457.4,616.1 464.6,609.3 472.1,604.8 478.1,599.8 485.6,594.4 492.3,590.4 497.8,587.4 504.8,586.1 512.8,583.6 519.8,581.1 526.3,581.1 533.7,579.1 539.7,577.4 547.2,576.6 553.4,576.1 559.7,575.4 567.2,575.4 572.7,575.4 579.6,573.7 585.9,572.4 592.1,569.2 599.6,569.2 607.1,567.4 614.6,566.2 620.8,565.4 615.0,566.1 622.4,564.8 628.2,564.1 634.2,564.3 639.9,565.6 646.1,566.1 655.1,568.6 662.4,569.3 669.8,570.3 677.3,571.1 682.3,570.6 686.8,569.3" fill="none" stroke="#ff5a5a" stroke-width="1.1" stroke-opacity="0.8" stroke-linejoin="round"/>
<rect x="0" y="486.8" width="882" height="1.8" fill="#3a3a3a"/>
<rect x="807.5999999999999" y="0" width="1.5" height="715" fill="#5a5a5a"/>
<rect x="2" y="713.5" width="807.0" height="1.5" fill="#5a5a5a"/>
<rect x="99.80000000000001" y="714" width="1.3" height="5.5" fill="#5a5a5a"/>
<rect x="220.8" y="714" width="1.3" height="5.5" fill="#5a5a5a"/>
<rect x="336.79999999999995" y="714" width="1.3" height="5.5" fill="#5a5a5a"/>
<rect x="450.29999999999995" y="714" width="1.3" height="5.5" fill="#5a5a5a"/>
<rect x="573.8" y="714" width="1.3" height="5.5" fill="#5a5a5a"/>
<rect x="687.8" y="714" width="1.3" height="5.5" fill="#5a5a5a"/>
<rect x="808.3" y="2.6" width="5" height="1.3" fill="#5a5a5a"/>
<text class="ax" x="818.2" y="10.1" textLength="48.9" lengthAdjust="spacingAndGlyphs">1.5000</text>
<rect x="808.3" y="63.9" width="5" height="1.3" fill="#5a5a5a"/>
<text class="ax" x="818.2" y="71.4" textLength="48.9" lengthAdjust="spacingAndGlyphs">1.4500</text>
<rect x="808.3" y="125.4" width="5" height="1.3" fill="#5a5a5a"/>
<text class="ax" x="818.2" y="132.9" textLength="48.9" lengthAdjust="spacingAndGlyphs">1.4000</text>
<rect x="808.3" y="186.9" width="5" height="1.3" fill="#5a5a5a"/>
<text class="ax" x="818.2" y="194.4" textLength="48.9" lengthAdjust="spacingAndGlyphs">1.3500</text>
<rect x="808.3" y="248.5" width="5" height="1.3" fill="#5a5a5a"/>
<text class="ax" x="818.2" y="256.0" textLength="48.9" lengthAdjust="spacingAndGlyphs">1.3000</text>
<rect x="808.3" y="310.09999999999997" width="5" height="1.3" fill="#5a5a5a"/>
<text class="ax" x="818.2" y="317.6" textLength="48.9" lengthAdjust="spacingAndGlyphs">1.2500</text>
<rect x="808.3" y="371.9" width="5" height="1.3" fill="#5a5a5a"/>
<text class="ax" x="818.2" y="379.4" textLength="48.9" lengthAdjust="spacingAndGlyphs">1.2000</text>
<rect x="808.3" y="433.59999999999997" width="5" height="1.3" fill="#5a5a5a"/>
<text class="ax" x="818.2" y="441.1" textLength="48.9" lengthAdjust="spacingAndGlyphs">1.1500</text>
<rect x="808.3" y="503.9" width="5" height="1.3" fill="#5a5a5a"/>
<text class="ax" x="818.2" y="511.4" textLength="48.9" lengthAdjust="spacingAndGlyphs">0.0400</text>
<rect x="808.3" y="549.3" width="5" height="1.3" fill="#5a5a5a"/>
<text class="ax" x="818.2" y="556.8" textLength="48.9" lengthAdjust="spacingAndGlyphs">0.0200</text>
<rect x="808.3" y="594.6999999999999" width="5" height="1.3" fill="#5a5a5a"/>
<text class="ax" x="818.2" y="602.2" textLength="48.9" lengthAdjust="spacingAndGlyphs">0.0000</text>
<rect x="808.3" y="641.0" width="5" height="1.3" fill="#5a5a5a"/>
<text class="ax" x="818.2" y="648.5" textLength="54.3" lengthAdjust="spacingAndGlyphs">-0.0200</text>
<rect x="808.3" y="686.0" width="5" height="1.3" fill="#5a5a5a"/>
<text class="ax" x="818.2" y="693.5" textLength="54.3" lengthAdjust="spacingAndGlyphs">-0.0400</text>
<rect x="807.5" y="61" width="68" height="24" fill="#008000"/>
<rect x="807.8" y="72.4" width="3.6" height="1.3" fill="#fff"/>
<text class="ax" x="817.8" y="78.5" textLength="51.4" lengthAdjust="spacingAndGlyphs" style="fill:#fff;stroke:#fff;stroke-width:0.3">1.4440</text>
<rect x="807.5" y="168" width="68" height="23.5" fill="#00dd00"/>
<rect x="807.8" y="179.15" width="3.6" height="1.3" fill="#000"/>
<text class="ax" x="817.8" y="185.6" textLength="51.4" lengthAdjust="spacingAndGlyphs" style="fill:#000;stroke:#000;stroke-width:0.3">1.3571</text>
<rect x="807.5" y="244.3" width="68" height="23.69999999999999" fill="#ff0000"/>
<rect x="807.8" y="255.54999999999998" width="3.6" height="1.3" fill="#fff"/>
<text class="ax" x="817.8" y="261.5" textLength="51.4" lengthAdjust="spacingAndGlyphs" style="fill:#fff;stroke:#fff;stroke-width:0.3">1.2950</text>
<rect x="807.5" y="531.2" width="68" height="23.799999999999955" fill="#0000ff"/>
<rect x="807.8" y="542.5" width="3.6" height="1.3" fill="#fff"/>
<text class="ax" x="817.8" y="548.6" textLength="51.4" lengthAdjust="spacingAndGlyphs" style="fill:#fff;stroke:#fff;stroke-width:0.3">0.0136</text>
<rect x="807.5" y="555" width="68" height="24" fill="#ff0000"/>
<rect x="807.8" y="566.4" width="3.6" height="1.3" fill="#fff"/>
<text class="ax" x="817.8" y="572.1" textLength="51.4" lengthAdjust="spacingAndGlyphs" style="fill:#fff;stroke:#fff;stroke-width:0.3">0.0115</text>
<rect x="807.5" y="579" width="68" height="23.700000000000045" fill="#ff0000"/>
<rect x="807.8" y="590.25" width="3.6" height="1.3" fill="#fff"/>
<text class="ax" x="817.8" y="596.5" textLength="51.4" lengthAdjust="spacingAndGlyphs" style="fill:#fff;stroke:#fff;stroke-width:0.3">0.0021</text>
<text class="ax" x="99.60000000000001" y="735.6" text-anchor="middle">May</text>
<text class="ax" x="220.6" y="735.6" text-anchor="middle">Sep</text>
<text class="ax" x="336.59999999999997" y="735.6" text-anchor="middle" font-weight="bold">2017</text>
<text class="ax" x="450.09999999999997" y="735.6" text-anchor="middle">May</text>
<text class="ax" x="573.6" y="735.6" text-anchor="middle">Sep</text>
<text class="ax" x="687.6" y="735.6" text-anchor="middle" font-weight="bold">2018</text>
<g transform="translate(223.5,16)"><rect width="20.6" height="20.6" fill="#d9d9d9" fill-opacity="0.9"/>
<path d="M2.2 10.3 Q10.3 -1.1999999999999993 18.400000000000002 10.3 Q10.3 21.8 2.2 10.3 Z" fill="#fff"/>
<circle cx="10.3" cy="10.3" r="2.6" fill="none" stroke="#d9d9d9" stroke-width="2.2"/>
</g>
<g transform="translate(249,16)"><rect width="20.6" height="20.6" fill="#d9d9d9" fill-opacity="0.9"/>
<g transform="translate(10.3,10.3)">
<rect x="-1.9" y="-7.9" width="3.8" height="15.8" fill="#fff" transform="rotate(0)"/>
<rect x="-1.9" y="-7.9" width="3.8" height="15.8" fill="#fff" transform="rotate(45)"/>
<rect x="-1.9" y="-7.9" width="3.8" height="15.8" fill="#fff" transform="rotate(90)"/>
<rect x="-1.9" y="-7.9" width="3.8" height="15.8" fill="#fff" transform="rotate(135)"/>
</g>
<circle cx="10.3" cy="10.3" r="5.9" fill="#fff"/>
<circle cx="10.3" cy="10.3" r="2.9" fill="#d9d9d9"/>
</g>
<g transform="translate(192,48.2)"><rect width="20.6" height="20.6" fill="#d9d9d9" fill-opacity="0.9"/>
<path d="M2.2 10.3 Q10.3 -1.1999999999999993 18.400000000000002 10.3 Q10.3 21.8 2.2 10.3 Z" fill="#fff"/>
<circle cx="10.3" cy="10.3" r="2.6" fill="none" stroke="#d9d9d9" stroke-width="2.2"/>
</g>
<g transform="translate(217.2,48.2)"><rect width="20.6" height="20.6" fill="#d9d9d9" fill-opacity="0.9"/>
<g transform="translate(10.3,10.3)">
<rect x="-1.9" y="-7.9" width="3.8" height="15.8" fill="#fff" transform="rotate(0)"/>
<rect x="-1.9" y="-7.9" width="3.8" height="15.8" fill="#fff" transform="rotate(45)"/>
<rect x="-1.9" y="-7.9" width="3.8" height="15.8" fill="#fff" transform="rotate(90)"/>
<rect x="-1.9" y="-7.9" width="3.8" height="15.8" fill="#fff" transform="rotate(135)"/>
</g>
<circle cx="10.3" cy="10.3" r="5.9" fill="#fff"/>
<circle cx="10.3" cy="10.3" r="2.9" fill="#d9d9d9"/>
</g>
<g transform="translate(243.1,48.2)"><rect width="20.6" height="20.6" fill="#d9d9d9" fill-opacity="0.9"/>
<path d="M3.8 3.8 L16.8 16.8 M16.8 3.8 L3.8 16.8" stroke="#fff" stroke-width="2.4" fill="none"/>
</g>
<g transform="translate(231.4,502.4)"><rect width="20.6" height="20.6" fill="#d9d9d9" fill-opacity="0.9"/>
<path d="M2.2 10.3 Q10.3 -1.1999999999999993 18.400000000000002 10.3 Q10.3 21.8 2.2 10.3 Z" fill="#fff"/>
<circle cx="10.3" cy="10.3" r="2.6" fill="none" stroke="#d9d9d9" stroke-width="2.2"/>
</g>
<g transform="translate(257,502.4)"><rect width="20.6" height="20.6" fill="#d9d9d9" fill-opacity="0.9"/>
<g transform="translate(10.3,10.3)">
<rect x="-1.9" y="-7.9" width="3.8" height="15.8" fill="#fff" transform="rotate(0)"/>
<rect x="-1.9" y="-7.9" width="3.8" height="15.8" fill="#fff" transform="rotate(45)"/>
<rect x="-1.9" y="-7.9" width="3.8" height="15.8" fill="#fff" transform="rotate(90)"/>
<rect x="-1.9" y="-7.9" width="3.8" height="15.8" fill="#fff" transform="rotate(135)"/>
</g>
<circle cx="10.3" cy="10.3" r="5.9" fill="#fff"/>
<circle cx="10.3" cy="10.3" r="2.9" fill="#d9d9d9"/>
</g>
<g transform="translate(282.5,502.4)"><rect width="20.6" height="20.6" fill="#d9d9d9" fill-opacity="0.9"/>
<path d="M3.8 3.8 L16.8 16.8 M16.8 3.8 L3.8 16.8" stroke="#fff" stroke-width="2.4" fill="none"/>
</g>
<path d="M197 24.5 L207 24.5 L202.0 30 Z" fill="#bdbdbd"/>
<path d="M166 55.4 L176 55.4 L171.0 60 Z" fill="#bdbdbd"/>
<path d="M204.5 510 L214.5 510 L209.5 514.6 Z" fill="#bdbdbd"/>
<rect x="10.6" y="16.7" width="17.8" height="17.8" rx="2.2" fill="#fff" stroke="#666" stroke-width="1.1"/>
<line x1="13" y1="25.3" x2="26.2" y2="25.3" stroke="#666" stroke-width="1.2"/>
<text class="hd" y="35.8" style="fill:#555;font-size:26px;stroke:#555;stroke-width:0.3"><tspan x="39.2" textLength="45.1" lengthAdjust="spacingAndGlyphs">GBP</tspan> <tspan x="98.6" textLength="50.7" lengthAdjust="spacingAndGlyphs">USD,</tspan> <tspan x="158.9" textLength="28.8" lengthAdjust="spacingAndGlyphs">W,</tspan></text>
<text class="hd" transform="translate(85.3,35.8) skewX(-9)" x="0" y="0" style="fill:#555;font-size:26px;stroke:#555;stroke-width:0.3">/</text>
<text class="hd" x="281.5" y="33.8" textLength="13.0" lengthAdjust="spacing" style="fill:#444;font-size:16px;stroke:#444;stroke-width:0.3" >O</text>
<text class="hd" x="302" y="33.8" textLength="53.2" lengthAdjust="spacing" style="fill:#00d400;font-size:16px;stroke:#00d400;stroke-width:0.3" >1.3515</text>
<text class="hd" x="362.3" y="33.8" textLength="12.7" lengthAdjust="spacing" style="fill:#444;font-size:16px;stroke:#444;stroke-width:0.3" >H</text>
<text class="hd" x="382.3" y="33.8" textLength="53.5" lengthAdjust="spacing" style="fill:#00d400;font-size:16px;stroke:#00d400;stroke-width:0.3" >1.3615</text>
<text class="hd" x="442.8" y="33.8" textLength="10.0" lengthAdjust="spacing" style="fill:#444;font-size:16px;stroke:#444;stroke-width:0.3" >L</text>
<text class="hd" x="460.3" y="33.8" textLength="54.0" lengthAdjust="spacing" style="fill:#00d400;font-size:16px;stroke:#00d400;stroke-width:0.3" >1.3494</text>
<text class="hd" x="521" y="33.8" textLength="11.5" lengthAdjust="spacing" style="fill:#444;font-size:16px;stroke:#444;stroke-width:0.3" >C</text>
<text class="hd" x="540.2" y="33.8" textLength="52.2" lengthAdjust="spacing" style="fill:#00d400;font-size:16px;stroke:#00d400;stroke-width:0.3" >1.3571</text>
<text class="hd" y="63.4" style="fill:#4a4a4a;font-size:16px;stroke:#4a4a4a;stroke-width:0.3"><tspan x="9.8" textLength="23.3" lengthAdjust="spacingAndGlyphs">MA</tspan> <tspan x="39.2" textLength="41.3" lengthAdjust="spacingAndGlyphs">Cross</tspan> <tspan x="87.1" textLength="29.0" lengthAdjust="spacingAndGlyphs">(50,</tspan> <tspan x="124.0" textLength="34.3" lengthAdjust="spacingAndGlyphs">200)</tspan></text>
<text class="hd" x="276.6" y="64.6" textLength="52.8" lengthAdjust="spacing" style="fill:#ff0000;font-size:16px;stroke:#ff0000;stroke-width:0.3" >1.2950</text>
<text class="hd" x="337.7" y="64.6" textLength="53.2" lengthAdjust="spacing" style="fill:#008000;font-size:16px;stroke:#008000;stroke-width:0.3" >1.4440</text>
<text class="hd" y="64.6" style="fill:#000080;stroke:#000080;stroke-width:0.3"><tspan x="398.8">n</tspan><tspan x="410.6">/</tspan><tspan x="417.9">a</tspan></text>
<text class="hd" y="518.4" style="fill:#4a4a4a;font-size:16px;stroke:#4a4a4a;stroke-width:0.3"><tspan x="9.8" textLength="44.5" lengthAdjust="spacingAndGlyphs">MACD</tspan> <tspan x="61.7" textLength="30.2" lengthAdjust="spacingAndGlyphs">(12,</tspan> <tspan x="97.8" textLength="25.3" lengthAdjust="spacingAndGlyphs">26,</tspan> <tspan x="127.8" textLength="45.2" lengthAdjust="spacingAndGlyphs">close,</tspan> <tspan x="182.6" textLength="15.7" lengthAdjust="spacingAndGlyphs">9)</tspan></text>
<text class="hd" x="315.2" y="518.9" textLength="52.9" lengthAdjust="spacing" style="fill:#ff0000;font-size:16px;stroke:#ff0000;stroke-width:0.3" >0.0021</text>
<text class="hd" x="376.3" y="518.9" textLength="53.9" lengthAdjust="spacing" style="fill:#0000ff;font-size:16px;stroke:#0000ff;stroke-width:0.3" >0.0136</text>
<text class="hd" x="437.8" y="518.9" textLength="53.3" lengthAdjust="spacing" style="fill:#ff0000;font-size:16px;stroke:#ff0000;stroke-width:0.3" >0.0115</text>
<circle cx="742.9" cy="27.8" r="4.9" fill="#8c8c8c"/>
<text class="hd" x="754.2" y="32" textLength="46.8" lengthAdjust="spacing" style="fill:#8a8a8a;font-size:16px;stroke:#8a8a8a;stroke-width:0.3" >closed</text>
<line x1="119" y1="-1" x2="805.6" y2="269.1" stroke="#101010" stroke-width="2.0"/>
<line x1="247.8" y1="442.8" x2="748" y2="186.8" stroke="#1a1a1a" stroke-width="1.1"/>
<text class="lbl" y="114.3" style="fill:#000;font-size:19px"><tspan x="385.5" textLength="57.5" lengthAdjust="spacingAndGlyphs">Major</tspan> <tspan x="449.1" textLength="85.0" lengthAdjust="spacingAndGlyphs">Trendline</tspan></text>
<text class="lbl" y="337.5" style="fill:#000;font-size:19px"><tspan x="479.8" textLength="56.5" lengthAdjust="spacingAndGlyphs">Minor</tspan> <tspan x="542.9" textLength="85.4" lengthAdjust="spacingAndGlyphs">Trendline</tspan></text>
<text x="20.6" y="469.9" textLength="136.4" lengthAdjust="spacingAndGlyphs" style="font-size:30px;font-weight:bold;fill:#686868;stroke:#686868;stroke-width:0.8">Investing</text>
<path d="M110.4 452 L114 444.8 L117.8 444.8 L115.4 452 Z" fill="#f7a823"/>
<text x="156" y="469.9" textLength="44.2" lengthAdjust="spacingAndGlyphs" style="font-size:21px;fill:#7a7a7a">.com</text>
</svg></body></html>
